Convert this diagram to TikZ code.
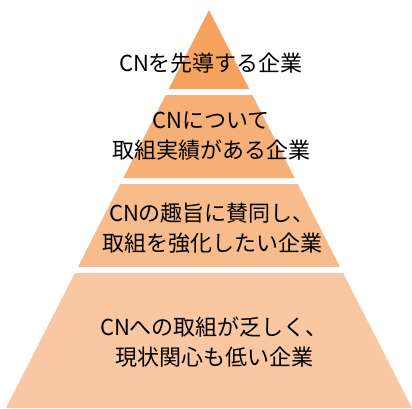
\documentclass[tikz,border=0pt]{standalone}
\usepackage{fontspec}
\newfontfamily\jpfont{Noto Sans CJK JP}
\usepackage{tikz}
\usetikzlibrary{calc}

\definecolor{layerA}{HTML}{F5A35E}
\definecolor{layerB}{HTML}{F6AF77}
\definecolor{layerC}{HTML}{F8BC8C}
\definecolor{layerD}{HTML}{F9C8A2}

\begin{document}
\begin{tikzpicture}[x=1pt,y=-1pt,
        lbl/.style={align=center, inner sep=0pt, font=\jpfont\fontsize{22}{30}\selectfont}]

        \useasboundingbox (0,0) rectangle (412,408);

        \coordinate (apex) at (209,10);
        \coordinate (bl) at (6,408);
        \coordinate (br) at (412,408);

        % layers, top to bottom
        \fill[layerA] (apex) -- ($(apex)!0.1985!(br)$) -- ($(apex)!0.1985!(bl)$) -- cycle;
        \fill[layerB] ($(apex)!0.2136!(bl)$) -- ($(apex)!0.2136!(br)$) -- ($(apex)!0.4221!(br)$) -- ($(apex)!0.4221!(bl)$) -- cycle;
        \fill[layerC] ($(apex)!0.4372!(bl)$) -- ($(apex)!0.4372!(br)$) -- ($(apex)!0.6457!(br)$) -- ($(apex)!0.6457!(bl)$) -- cycle;
        \fill[layerD] ($(apex)!0.6608!(bl)$) -- ($(apex)!0.6608!(br)$) -- (br) -- (bl) -- cycle;

        \node[lbl] (t1) at (211,63) {CNを先導する企業};
        \node[lbl] (t2) at (211,136) {CNについて\\取組実績がある企業};
        \node[lbl] (t3) at (212,228) {CNの趣旨に賛同し、\\取組を強化したい企業};
        \node[lbl] (t4) at (214,342) {CNへの取組が乏しく、\\現状関心も低い企業};

      \end{tikzpicture}
\end{document}
